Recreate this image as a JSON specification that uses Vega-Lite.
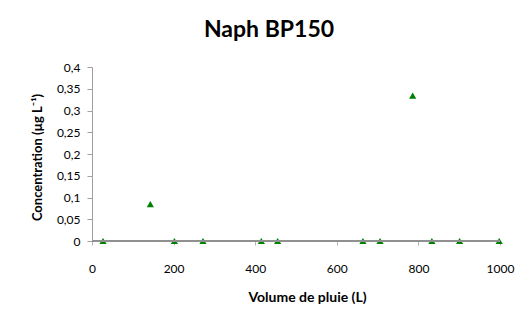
{
  "$schema": "https://vega.github.io/schema/vega-lite/v6.json",
  "autosize": {"type": "none"},
  "width": 408,
  "height": 174,
  "padding": {"left": 92, "top": 67, "right": 26, "bottom": 79},
  "background": "white",
  "title": {"text": "Naph BP150", "font": "Lato", "fontSize": 23, "fontWeight": "bold", "color": "#000000", "anchor": "middle", "offset": 19, "dx": -27},
  "data": {"values": [
    {"volume": 27, "conc": 0},
    {"volume": 143, "conc": 0.085},
    {"volume": 202, "conc": 0},
    {"volume": 272, "conc": 0},
    {"volume": 415, "conc": 0},
    {"volume": 455, "conc": 0},
    {"volume": 664, "conc": 0},
    {"volume": 706, "conc": 0},
    {"volume": 786, "conc": 0.334},
    {"volume": 833, "conc": 0},
    {"volume": 901, "conc": 0},
    {"volume": 998, "conc": 0}
  ]},
  "layer": [
    {
      "mark": {"type": "point", "shape": "triangle-up", "filled": true, "color": "#008000", "opacity": 1, "size": 52},
      "encoding": {
        "x": {"field": "volume", "type": "quantitative", "scale": {"domain": [0, 1000], "nice": false},
          "axis": {"title": "Volume de pluie (L)", "values": [0, 200, 400, 600, 800, 1000], "format": "d", "labelFlush": false, "grid": false, "domain": false, "ticks": true, "tickColor": "#b0b0b0", "tickSize": 4, "labelPadding": 18, "labelFont": "Lato", "labelFontSize": 12, "labelColor": "#000000", "titleFont": "Lato", "titleFontSize": 14, "titleFontWeight": "bold", "titleColor": "#000000", "titleX": 215, "titleY": 56, "titleBaseline": "middle"}},
        "y": {"field": "conc", "type": "quantitative", "scale": {"domain": [0, 0.4], "nice": false},
          "axis": {"title": "Concentration (µg L⁻¹)", "values": [0, 0.05, 0.1, 0.15, 0.2, 0.25, 0.3, 0.35, 0.4], "labelExpr": "replace(format(datum.value, '~g'), '.', ',')", "labelOverlap": false, "grid": false, "domainColor": "#a0a0a0", "tickColor": "#a0a0a0", "tickSize": 5, "labelPadding": 7, "labelFont": "Lato", "labelFontSize": 12, "labelColor": "#000000", "titleFont": "Lato", "titleFontSize": 13, "titleFontWeight": "bold", "titleColor": "#000000", "titleX": -55, "titleY": 90, "titleBaseline": "middle"}}
      }
    },
    {
      "mark": {"type": "rule", "color": "#909090", "strokeWidth": 1.2},
      "encoding": {"y": {"datum": 0, "type": "quantitative",
          "axis": {"title": "Concentration (µg L⁻¹)", "values": [0, 0.05, 0.1, 0.15, 0.2, 0.25, 0.3, 0.35, 0.4], "labelExpr": "replace(format(datum.value, '~g'), '.', ',')", "labelOverlap": false, "grid": false, "domainColor": "#a0a0a0", "tickColor": "#a0a0a0", "tickSize": 5, "labelPadding": 7, "labelFont": "Lato", "labelFontSize": 12, "labelColor": "#000000", "titleFont": "Lato", "titleFontSize": 13, "titleFontWeight": "bold", "titleColor": "#000000", "titleX": -55, "titleY": 90, "titleBaseline": "middle"}}}
    }
  ],
  "config": {"view": {"stroke": null}}
}
